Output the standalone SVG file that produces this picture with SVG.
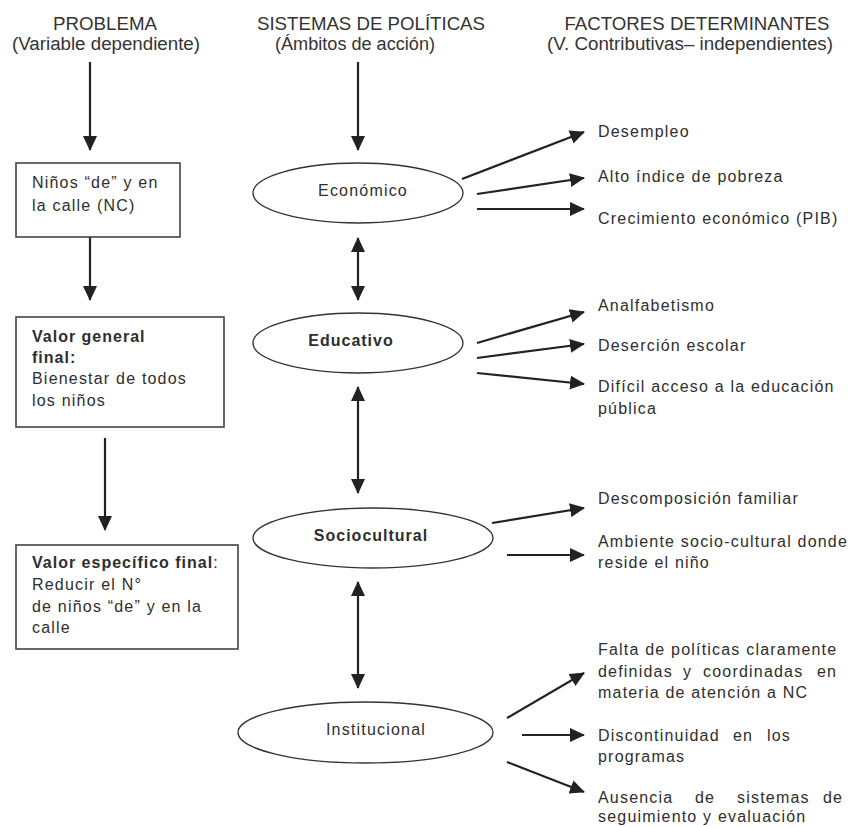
<svg xmlns="http://www.w3.org/2000/svg" width="851" height="827" viewBox="0 0 851 827">
<style>
.h{font-family:"Liberation Sans",Arial,sans-serif;font-size:18px;fill:#333}
.t{font-family:"Liberation Sans",Arial,sans-serif;font-size:16px;fill:#2e2e2e;letter-spacing:1.2px}
.b{font-weight:bold;letter-spacing:1px}
.box{fill:#fff;stroke:#444;stroke-width:1.6}
.ell{fill:#fff;stroke:#333;stroke-width:1.3}
.c line{stroke:#222;stroke-width:2.2}
</style>
<defs>
<marker id="ah" viewBox="0 0 15 14" markerWidth="15" markerHeight="14" refX="14" refY="7" orient="auto-start-reverse" markerUnits="userSpaceOnUse">
<path d="M0,0 L15,7 L0,14 z" fill="#222"/>
</marker>
</defs>
<rect width="851" height="827" fill="#fff"/>
<g id="headers">
<text class="h" x="105" y="30" text-anchor="middle" textLength="104" lengthAdjust="spacingAndGlyphs">PROBLEMA</text>
<text class="h" x="106" y="50" text-anchor="middle" textLength="188" lengthAdjust="spacingAndGlyphs">(Variable dependiente)</text>
<text class="h" x="371" y="30" text-anchor="middle" textLength="228" lengthAdjust="spacingAndGlyphs">SISTEMAS DE POLÍTICAS</text>
<text class="h" x="355" y="50" text-anchor="middle" textLength="160" lengthAdjust="spacingAndGlyphs">(Ámbitos de acción)</text>
<text class="h" x="697" y="30" text-anchor="middle" textLength="265" lengthAdjust="spacingAndGlyphs">FACTORES DETERMINANTES</text>
<text class="h" x="690" y="50" text-anchor="middle" textLength="286" lengthAdjust="spacingAndGlyphs">(V. Contributivas– independientes)</text>
</g>
<g id="connectors" class="c">
<line x1="90" y1="62" x2="90" y2="150" marker-end="url(#ah)"/>
<line x1="90" y1="237" x2="90" y2="300" marker-end="url(#ah)"/>
<line x1="105" y1="438" x2="105" y2="530" marker-end="url(#ah)"/>
<line x1="358" y1="62" x2="358" y2="150" marker-end="url(#ah)"/>
<line x1="358" y1="238" x2="358" y2="300" marker-start="url(#ah)" marker-end="url(#ah)"/>
<line x1="358" y1="387" x2="358" y2="493" marker-start="url(#ah)" marker-end="url(#ah)"/>
<line x1="358" y1="582" x2="358" y2="688" marker-start="url(#ah)" marker-end="url(#ah)"/>
<line x1="462" y1="179" x2="584" y2="132" marker-end="url(#ah)"/>
<line x1="477" y1="194" x2="584" y2="178" marker-end="url(#ah)"/>
<line x1="477" y1="209" x2="584" y2="209" marker-end="url(#ah)"/>
<line x1="477" y1="343" x2="584" y2="312" marker-end="url(#ah)"/>
<line x1="477" y1="358" x2="584" y2="344" marker-end="url(#ah)"/>
<line x1="477" y1="373" x2="584" y2="384" marker-end="url(#ah)"/>
<line x1="492" y1="523" x2="584" y2="508" marker-end="url(#ah)"/>
<line x1="507" y1="555" x2="584" y2="555" marker-end="url(#ah)"/>
<line x1="507" y1="718" x2="584" y2="673" marker-end="url(#ah)"/>
<line x1="522" y1="735" x2="584" y2="735" marker-end="url(#ah)"/>
<line x1="507" y1="762" x2="584" y2="792" marker-end="url(#ah)"/>
</g>
<g id="nc">
<rect class="box" x="16" y="163" width="164" height="74"/>
<text class="t" x="32" y="188">Niños “de” y en</text>
<text class="t" x="32" y="211">la calle (NC)</text>
</g>
<g id="valor-general">
<rect class="box" x="16" y="317" width="208" height="110"/>
<text class="t b" x="32" y="342">Valor general</text>
<text class="t b" x="32" y="363">final:</text>
<text class="t" x="32" y="384">Bienestar de todos</text>
<text class="t" x="32" y="406">los niños</text>
</g>
<g id="valor-especifico">
<rect class="box" x="16" y="545" width="222" height="104"/>
<text class="t" x="32" y="568"><tspan class="b">Valor específico final</tspan>:</text>
<text class="t" x="32" y="590">Reducir el N°</text>
<text class="t" x="32" y="612">de niños “de” y en la</text>
<text class="t" x="32" y="633">calle</text>
</g>
<g id="economico">
<ellipse class="ell" cx="358" cy="193" rx="105" ry="30"/>
<text class="t" x="363" y="196" text-anchor="middle">Económico</text>
</g>
<g id="educativo">
<ellipse class="ell" cx="358" cy="343" rx="105" ry="30"/>
<text class="t b" x="351" y="346" text-anchor="middle">Educativo</text>
</g>
<g id="sociocultural">
<ellipse class="ell" cx="373" cy="538" rx="120" ry="30"/>
<text class="t b" x="371" y="541" text-anchor="middle">Sociocultural</text>
</g>
<g id="institucional">
<ellipse class="ell" cx="365.5" cy="732.5" rx="127.5" ry="30.5"/>
<text class="t" x="376" y="735" text-anchor="middle">Institucional</text>
</g>
<g id="f-economico">
<text class="t" x="598" y="137">Desempleo</text>
<text class="t" x="598" y="182">Alto índice de pobreza</text>
<text class="t" x="598" y="224">Crecimiento económico (PIB)</text>
</g>
<g id="f-educativo">
<text class="t" x="598" y="311">Analfabetismo</text>
<text class="t" x="598" y="351">Deserción escolar</text>
<text class="t" x="598" y="392">Difícil acceso a la educación</text>
<text class="t" x="598" y="414">pública</text>
</g>
<g id="f-sociocultural">
<text class="t" x="598" y="504">Descomposición familiar</text>
<text class="t" x="598" y="547">Ambiente socio-cultural donde</text>
<text class="t" x="598" y="568">reside el niño</text>
</g>
<g id="f-institucional">
<text class="t" x="598" y="655">Falta de políticas claramente</text>
<text class="t" y="677"><tspan x="598">definidas</tspan><tspan x="683">y</tspan><tspan x="703">coordinadas</tspan><tspan x="817">en</tspan></text>
<text class="t" x="598" y="698">materia de atención a NC</text>
<text class="t" y="741"><tspan x="598">Discontinuidad</tspan><tspan x="733">en</tspan><tspan x="767">los</tspan></text>
<text class="t" x="598" y="762">programas</text>
<text class="t" y="803"><tspan x="598">Ausencia</tspan><tspan x="695">de</tspan><tspan x="737">sistemas</tspan><tspan x="823">de</tspan></text>
<text class="t" x="598" y="822">seguimiento y evaluación</text>
</g>
</svg>
